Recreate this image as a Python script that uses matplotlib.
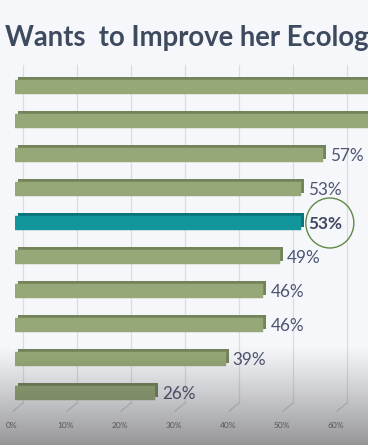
import numpy as np
import matplotlib
matplotlib.use("Agg")
import matplotlib.pyplot as plt
from matplotlib.transforms import ScaledTranslation
from matplotlib.patches import Ellipse

# ---- data ----
values = [72, 68, 57, 53, 53, 49, 46, 46, 39, 26]
labels = ["72%", "68%", "57%", "53%", "53%", "49%", "46%", "46%", "39%", "26%"]
highlight = 4
xticks = [0, 10, 20, 30, 40, 50, 60]
xticklabels = ["0%", "10%", "20%", "30%", "40%", "50%", "60%"]
title = "Wants  to Improve her Ecology"

W, H, DPI = 368, 445, 100
fig = plt.figure(figsize=(W / DPI, H / DPI), dpi=DPI)
fig.patch.set_facecolor("#f6f7fb")

# axes: data 0 at px 15, right edge px 368 ; y from px 62 to px 405
left = 15 / W
bottom = 1 - 405 / H
top = 1 - 62 / H
ax = fig.add_axes([left, bottom, 1 - left, top - bottom])
ax.set_facecolor("none")
ax.set_xlim(0, (W - 15) / 5.4)
ax.set_ylim(9.353, -0.735)
for s in ax.spines.values():
    s.set_visible(False)
ax.set_yticks([])

px = lambda p: p / DPI
off = lambda dx, dy: ScaledTranslation(px(dx), px(dy), fig.dpi_scale_trans)

# 3D-looking gridlines (shifted 8px right)
gtrans = ax.get_xaxis_transform() + off(8, 0)
for v in xticks + [70]:
    ax.plot([v, v], [0.006, 0.99], transform=gtrans, color="#dcdde3", lw=0.9,
            zorder=0, clip_on=False)
    ax.plot([v + 8 / 5.4, v - 2 / 5.4], [0.006, -0.018],
            transform=ax.get_xaxis_transform(), color="#d3d4da", lw=0.9,
            zorder=0, clip_on=False)

ax.set_xticks(xticks)
ax.set_xticklabels(xticklabels, fontsize=6, color="#6b6b73", family="Lato")
ax.tick_params(axis="x", length=0, pad=12)
for t in ax.get_xticklabels():
    t.set_transform(t.get_transform() + off(-3, 0))

y = np.arange(len(values))
h = 0.44
green, green_dark = "#96a878", "#74845a"
teal, teal_dark = "#12959b", "#0d7479"
cols = [teal if i == highlight else green for i in y]
cols_d = [teal_dark if i == highlight else green_dark for i in y]

# back (top & side faces) shifted up-right by 3px
ax.barh(y, values, height=h, color=cols_d, zorder=2,
        transform=ax.transData + off(3, 3))
ax.barh(y, values, height=h, color=cols, zorder=3, edgecolor=cols, lw=0.3)

for i, (v, lab) in enumerate(zip(values, labels)):
    ax.annotate(lab, (v, i), xytext=(5, -1), textcoords="offset points",
                va="center", ha="left", fontsize=12.3, family="Lato",
                color="#3f4760" if i == highlight else "#4d5572",
                fontweight="bold" if i == highlight else "normal",
                zorder=5, annotation_clip=False)

ax.add_patch(Ellipse((58.3, highlight), 8.9, 1.47, fill=False,
                     edgecolor="#5e8a44", lw=1.0, zorder=6))

fig.text(5 / W, 1 - 46 / H, title, fontsize=19.8, fontweight="bold",
         family="Lato", color="#3e4a5e", ha="left", va="baseline")

# bottom darkening overlay
ov = fig.add_axes([0, 0, 1, 1], zorder=20)
ov.axis("off")
rows = np.arange(H)
a = np.clip((rows - 345) / (H - 345), 0, 1) ** 1.1 * 0.5
img = np.zeros((H, 1, 4))
img[:, 0, 0:3] = 0.2
img[:, 0, 3] = a
ov.imshow(img, aspect="auto", extent=[0, 1, 0, 1], origin="upper")
ov.set_xlim(0, 1)
ov.set_ylim(0, 1)

fig.savefig("out.png", dpi=DPI, facecolor=fig.get_facecolor())
